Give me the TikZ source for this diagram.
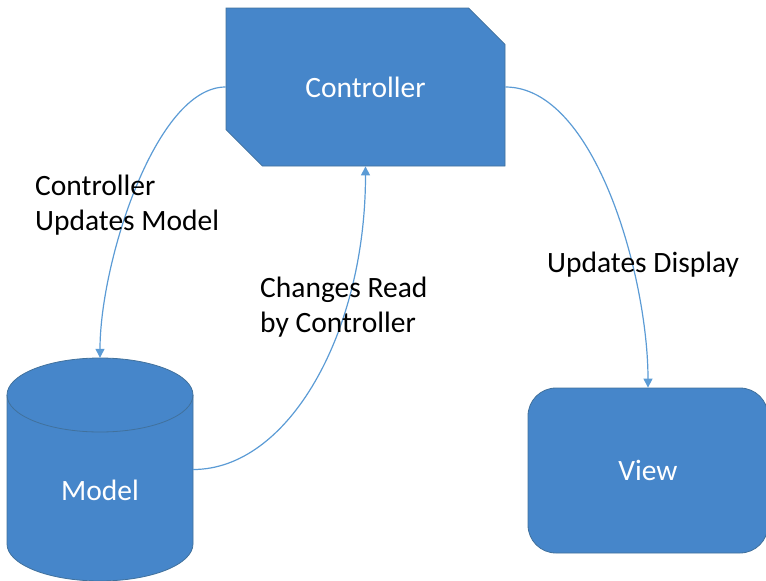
\documentclass[tikz,border=0pt]{standalone}
\usepackage{fontspec}
\setmainfont{Carlito}
\usetikzlibrary{shapes.misc,arrows.meta}

\definecolor{boxblue}{HTML}{4686CA}
\definecolor{boxedge}{HTML}{41719C}
\definecolor{linkblue}{HTML}{5B9BD5}

\begin{document}
\begin{tikzpicture}[x=1pt, y=-1pt, font=\fontsize{29.5}{35}\selectfont,
    part/.style={fill=boxblue, draw=boxedge, thick, text=white, inner sep=0pt},
    link/.style={linkblue, line width=1.2pt, -{Triangle[width=9pt,length=9pt]}},
    caption/.style={align=left, anchor=base west, inner sep=0pt}]
  \useasboundingbox (0,0) rectangle (766,581);
  % controller
  \node[part, chamfered rectangle, chamfered rectangle corners={north east,south west},
    chamfered rectangle xsep=26pt, chamfered rectangle ysep=26pt,
    minimum width=279pt, minimum height=158pt] (controller) at (365.5,87) {Controller};
  % model
  \node[minimum width=186pt, minimum height=223pt, inner sep=0pt] (model) at (100,469.5) {};
  \fill[boxblue] (7,395) -- (7,544) arc[start angle=180, end angle=0, x radius=93, y radius=37]
    -- (193,395) arc[start angle=0, end angle=-180, x radius=93, y radius=37] -- cycle;
  \draw[boxedge, thick] (7,395) -- (7,544) arc[start angle=180, end angle=0, x radius=93, y radius=37]
    -- (193,395);
  \draw[boxedge, thick] (100,395) ellipse[x radius=93, y radius=37];
  \node[text=white, inner sep=0pt] (model text) at (100,490) {Model};
  % view
  \node[part, rectangle, rounded corners=28pt,
    minimum width=240pt, minimum height=165pt] (view) at (648,470.5) {View};
  % links
  \draw[link] (controller.west) to[out=180, in=90, out distance=70pt, in distance=95pt] (model.north);
  \draw[link] (model.east) to[out=0, in=-90, out distance=95pt, in distance=167pt] (controller.south);
  \draw[link] (controller.east) to[out=0, in=90, out distance=90pt, in distance=110pt] (view.north);
  % captions
  \node[caption] (update model) at (35,230) {Controller\\Updates Model};
  \node[caption] (read changes) at (260,332) {Changes Read\\by Controller};
  \node[caption] (update display) at (547,272) {Updates Display};
\end{tikzpicture}
\end{document}
